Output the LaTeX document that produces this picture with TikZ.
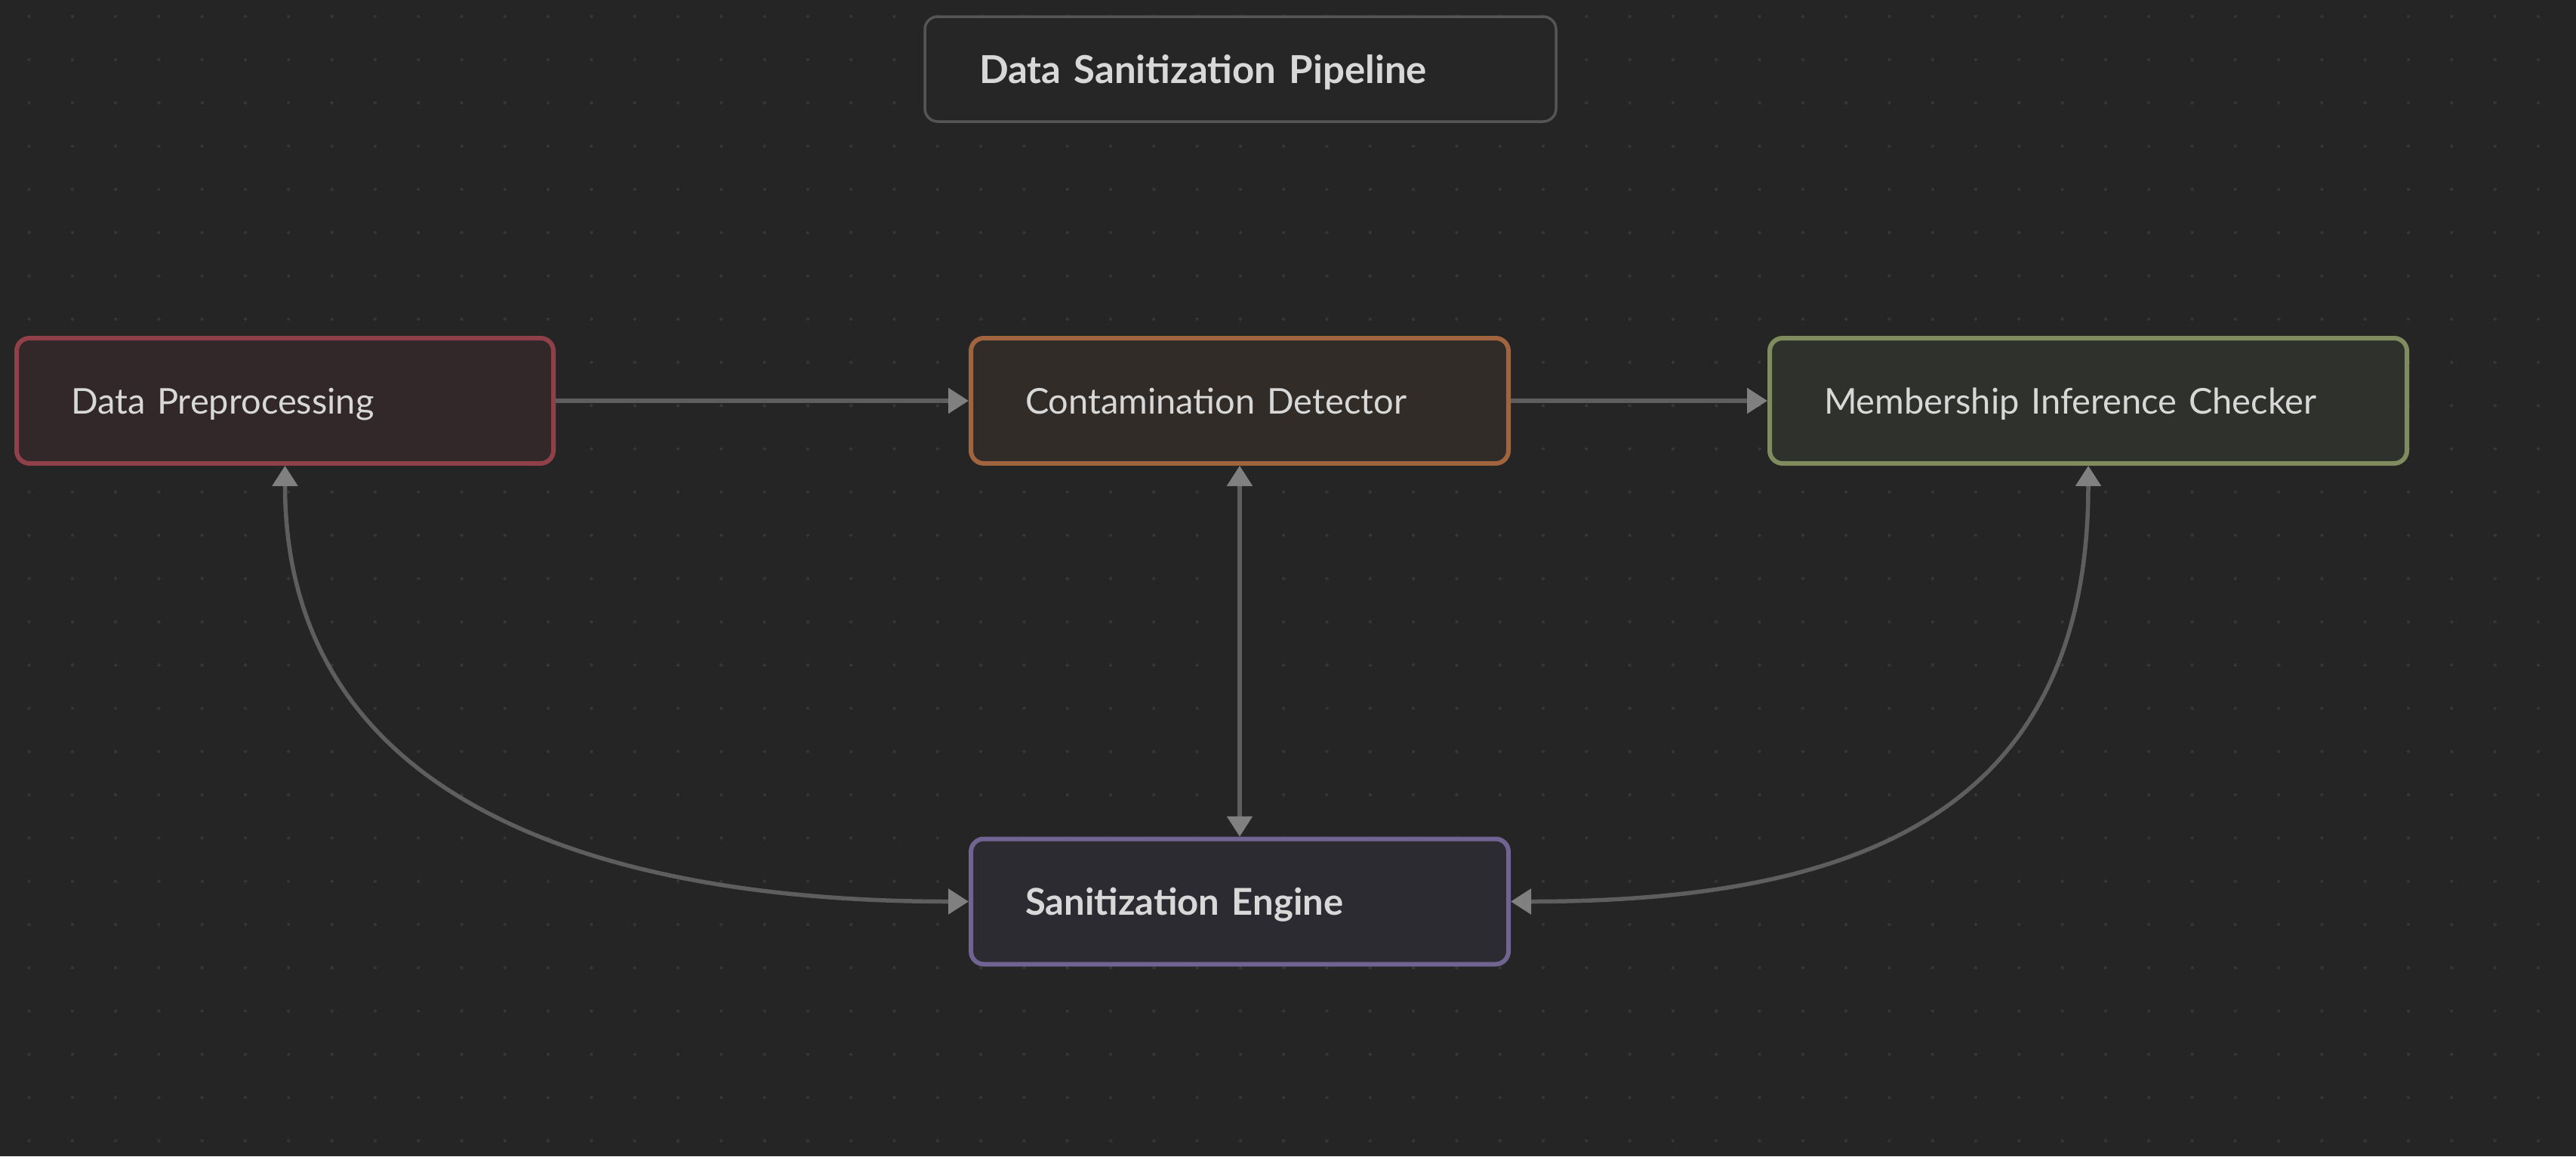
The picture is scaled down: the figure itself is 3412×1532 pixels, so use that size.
\documentclass[tikz,border=0pt]{standalone}
\usepackage{fontspec}
\setmainfont{Lato}
\usetikzlibrary{arrows.meta}
\definecolor{bg}{HTML}{252525}
\definecolor{griddot}{HTML}{363636}
\definecolor{txt}{HTML}{D8D8D8}
\definecolor{edge}{HTML}{5E5E5E}
\definecolor{tip}{HTML}{808080}
\definecolor{redb}{HTML}{8F4048}\definecolor{redf}{HTML}{322829}
\definecolor{orab}{HTML}{A0643E}\definecolor{oraf}{HTML}{312C28}
\definecolor{grnb}{HTML}{808C5E}\definecolor{grnf}{HTML}{2F312C}
\definecolor{purb}{HTML}{706492}\definecolor{purf}{HTML}{2C2B31}
\definecolor{titb}{HTML}{555555}\definecolor{titf}{HTML}{262626}
\tikzset{
  box/.style={draw, line width=6pt, rounded corners=17pt, inner xsep=72pt, inner ysep=0pt,
    align=left, text=txt, font=\fontsize{47}{54}\selectfont, minimum height=166pt,
    text height=34pt, text depth=0pt},
  conn/.style={draw=edge, line width=5.5pt},
  tipa/.style={-{Triangle[length=27pt,width=33pt,color=tip]}},
  tipb/.style={{Triangle[length=27pt,width=33pt,color=tip]}-{Triangle[length=27pt,width=33pt,color=tip]}}
}
\begin{document}
\begin{tikzpicture}[x=1pt,y=-1pt]
\useasboundingbox (0,0) rectangle (3412,1532);
\fill[bg] (0,0) rectangle (3412,1532);
\foreach \i in {0,...,59}{\foreach \j in {0,...,26}{
  \fill[griddot] (38.5+57.3*\i,21.7+57.3*\j) circle (2.2pt);}}
\node[box, draw=titb, fill=titf, line width=3.5pt, minimum height=139pt, text width=692pt,
  font=\fontsize{51}{58}\selectfont\bfseries, text height=37pt] (title) at (1643,91.5) {Data Sanitization Pipeline};
\node[box, draw=redb, fill=redf, text width=567pt] (dp) at (377.5,531) {Data Preprocessing};
\node[box, draw=orab, fill=oraf, text width=568pt] (cd) at (1642,531) {Contamination Detector};
\node[box, draw=grnb, fill=grnf, text width=700pt] (mic) at (2766,531) {Membership Inference Checker};
\node[box, draw=purb, fill=purf, text width=568pt, font=\fontsize{49}{56}\selectfont\bfseries, text height=35pt] (se) at (1642,1194.5) {Sanitization Engine};
\draw[conn, tipa] (dp.east) -- (cd.west);
\draw[conn, tipa] (cd.east) -- (mic.west);
\draw[conn, tipb] (cd.south) -- (se.north);
\draw[conn, tipb] (dp.south) .. controls +(0,460) and +(-460,0) .. (se.west);
\draw[conn, tipb] (mic.south) .. controls +(0,460) and +(460,0) .. (se.east);
\end{tikzpicture}
\end{document}
